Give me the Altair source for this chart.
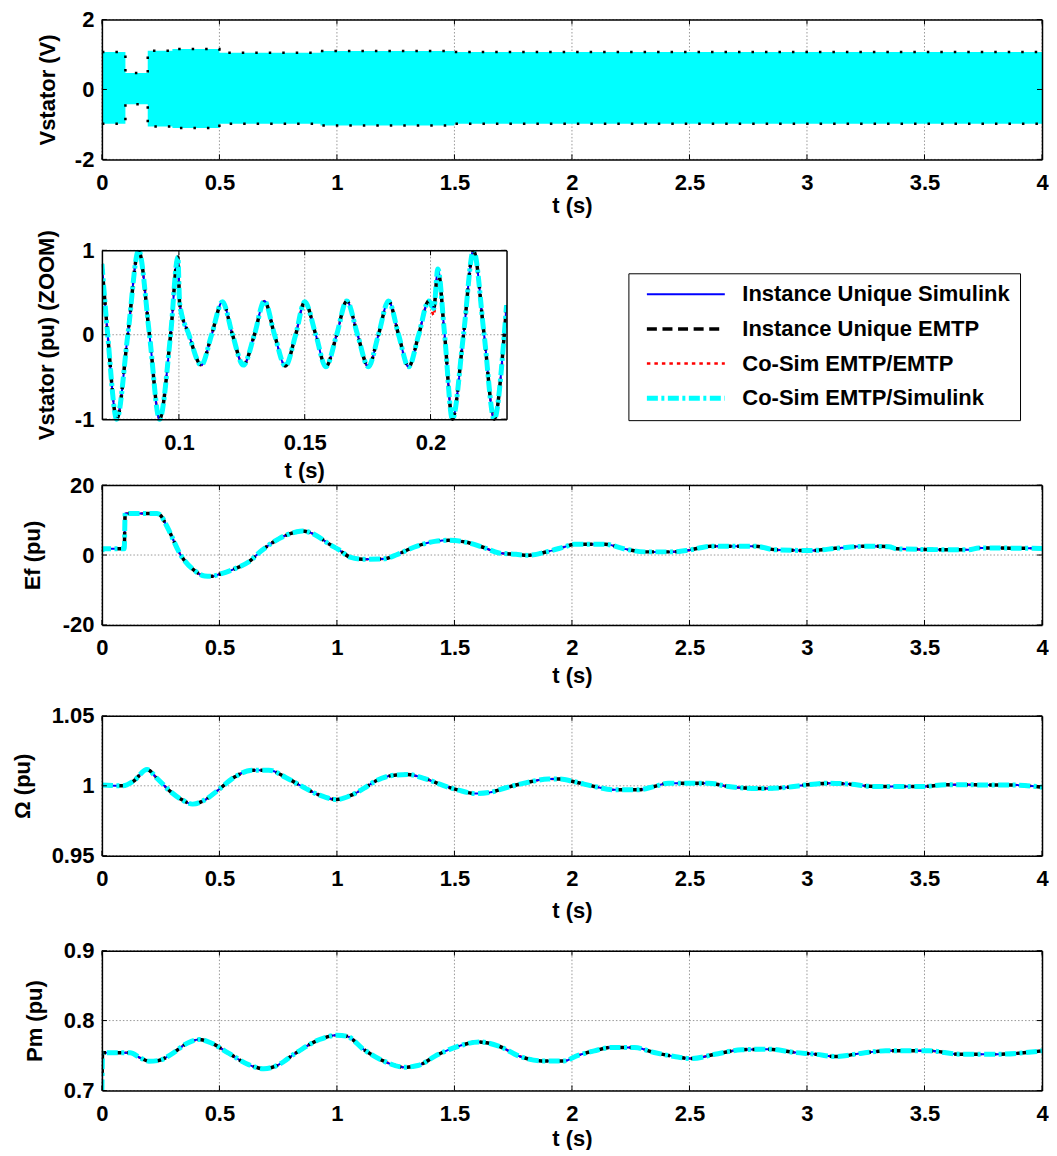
import altair as alt
import pandas as pd

FONT = "Liberation Sans"

# ---------------- data ----------------
SERIES = ["Instance Unique Simulink", "Instance Unique EMTP",
          "Co-Sim EMTP/EMTP", "Co-Sim EMTP/Simulink"]
SERIES_COLORS = ["#0000ff", "#000000", "#ff0000", "#00ffff"]
SERIES_DASHES = [[1, 0], [10, 5.6], [3.5, 4], [11, 3.5, 3, 3.5]]
SERIES_WIDTHS = [2, 3.5, 2.5, 5]
DRAW_ORDER = ["Co-Sim EMTP/EMTP", "Instance Unique Simulink",
              "Instance Unique EMTP", "Co-Sim EMTP/Simulink"]

T_TICKS = [0, 0.5, 1, 1.5, 2, 2.5, 3, 3.5, 4]
ZOOM_T_TICKS = [0.1, 0.15, 0.2]
VS_TICKS = [-2, 0, 2]
ZOOM_V_TICKS = [-1, 0, 1]
EF_TICKS = [-20, 0, 20]
OMEGA_TICKS = [0.95, 1, 1.05]
PM_TICKS = [0.7, 0.8, 0.9]

# envelope of the stator voltage (dense 60 Hz band)
VS_ENV_T = [0, 0.1, 0.195, 0.3, 0.5, 0.93, 1.5, 4.0]
VS_ENV_HI = [1.07, 0.47, 1.11, 1.16, 1.05, 1.10, 1.07, 1.07]
VS_ENV_LO = [-0.98, -0.42, -1.06, -1.10, -0.98, -1.03, -0.98, -0.98]

# zoom on the stator voltage
ZOOM_T = [0.0694, 0.0717, 0.0753, 0.0797, 0.0840, 0.0883, 0.0923, 0.0967, 0.0996,
          0.1003, 0.1040, 0.1089, 0.1130, 0.1173, 0.1213, 0.1256, 0.1300, 0.1340,
          0.1380, 0.1423, 0.1464, 0.1500, 0.1544, 0.1584, 0.1627, 0.1667, 0.1710,
          0.1753, 0.1793, 0.1833, 0.1873, 0.1913, 0.1953, 0.1993, 0.2013, 0.2029,
          0.2056, 0.2087, 0.2131, 0.2171, 0.2213, 0.2253, 0.2293, 0.2302]
ZOOM_V = [0.84, 0.0, -1.0, 0.0, 1.0, 0.0, -1.0, 0.0, 0.92,
          0.37, 0.0, -0.36, 0.0, 0.39, 0.0, -0.36, 0.0, 0.40,
          0.0, -0.37, 0.0, 0.39, 0.0, -0.38, 0.0, 0.40, 0.0,
          -0.38, 0.0, 0.40, 0.0, -0.38, 0.0, 0.40, 0.31, 0.78,
          0.0, -1.0, 0.0, 1.0, 0.0, -1.0, 0.0, 0.35]
# co-simulation EMTP/EMTP differs slightly right after the 0.2 s event
ZOOM_V_COSIM_EE = [0.84, 0.0, -1.0, 0.0, 1.0, 0.0, -1.0, 0.0, 0.92,
                   0.37, 0.0, -0.36, 0.0, 0.39, 0.0, -0.36, 0.0, 0.40,
                   0.0, -0.37, 0.0, 0.39, 0.0, -0.38, 0.0, 0.40, 0.0,
                   -0.38, 0.0, 0.40, 0.0, -0.38, 0.0, 0.40, 0.23, 0.74,
                   -0.04, -0.99, -0.02, 0.98, -0.03, -0.99, -0.02, 0.33]

EF_T = [0, 0.005, 0.095, 0.099, 0.105, 0.235, 0.25, 0.278, 0.336, 0.393, 0.437,
        0.465, 0.50, 0.566, 0.624, 0.68, 0.754, 0.826, 0.854, 0.912, 0.963, 1.006,
        1.056, 1.11, 1.2, 1.258, 1.33, 1.416, 1.474, 1.546, 1.618, 1.69, 1.762,
        1.81, 1.9, 1.967, 2.01, 2.14, 2.22, 2.31, 2.42, 2.49, 2.59, 2.78, 2.865,
        3.02, 3.135, 3.25, 3.35, 3.38, 3.49, 3.69, 3.73, 4.0]
EF_V = [1.0, 1.8, 1.8, 11.9, 11.9, 11.9, 11.3, 8.0, -0.1, -4.4, -6.0,
        -6.1, -5.5, -3.9, -2.0, 1.3, 4.7, 6.6, 6.9, 5.6, 3.3, 1.6,
        -0.6, -1.2, -1.1, 0.2, 2.3, 3.9, 4.2, 3.7, 2.3, 0.6, 0.2,
        -0.1, 1.05, 2.3, 3.1, 3.1, 1.8, 0.9, 0.9, 1.3, 2.5, 2.5, 1.5,
        1.3, 2.0, 2.5, 2.4, 1.8, 1.6, 1.5, 2.0, 1.9]

OMEGA_T = [0, 0.09, 0.134, 0.192, 0.235, 0.293, 0.343, 0.386, 0.437, 0.494, 0.566,
           0.638, 0.71, 0.782, 0.854, 0.926, 0.998, 1.056, 1.114, 1.171, 1.244, 1.3,
           1.373, 1.46, 1.517, 1.589, 1.647, 1.719, 1.81, 1.9, 1.95, 2.01, 2.095,
           2.18, 2.28, 2.35, 2.41, 2.58, 2.665, 2.81, 2.907, 2.99, 3.09, 3.18, 3.29,
           3.49, 3.59, 3.89, 4.0]
OMEGA_V = [1.0005, 1.0, 1.0033, 1.0117, 1.0052, 0.9957, 0.9898, 0.9869, 0.9898, 0.9969, 1.0064,
           1.0112, 1.0112, 1.006, 0.9993, 0.9933, 0.9902, 0.9929, 0.9981, 1.004, 1.0076, 1.0081,
           1.0052, 0.9998, 0.9969, 0.9945, 0.9952, 0.9986, 1.0024, 1.0048, 1.0048, 1.0029, 0.9995,
           0.9971, 0.9971, 0.9995, 1.0019, 1.0019, 0.9995, 0.998, 0.9988, 1.0005, 1.0019, 1.0012, 0.9995,
           0.9995, 1.0007, 1.0005, 0.999]

PM_T = [0, 0.003, 0.12, 0.163, 0.2, 0.242, 0.293, 0.365, 0.415, 0.465, 0.537, 0.624,
        0.689, 0.739, 0.826, 0.926, 0.998, 1.042, 1.114, 1.2, 1.287, 1.344, 1.43,
        1.517, 1.604, 1.69, 1.777, 1.87, 1.967, 2.02, 2.095, 2.166, 2.266, 2.35,
        2.436, 2.51, 2.608, 2.722, 2.836, 2.95, 3.036, 3.12, 3.235, 3.335, 3.52,
        3.65, 3.805, 4.0]
PM_V = [0.70, 0.754, 0.754, 0.7467, 0.7419, 0.7429, 0.7514, 0.768, 0.7729, 0.768, 0.7538, 0.7371,
        0.731, 0.7348, 0.7538, 0.7729, 0.779, 0.7776, 0.7586, 0.7419, 0.7333, 0.7357, 0.7514,
        0.7633, 0.7695, 0.7633, 0.749, 0.7423, 0.7423, 0.7495, 0.7567, 0.7615, 0.7615, 0.7543,
        0.7486, 0.7457, 0.7519, 0.7582, 0.7591, 0.7543, 0.7519, 0.7486, 0.7534, 0.7567, 0.7567,
        0.7519, 0.7519, 0.7567]

# ---------------- styling ----------------
GRID_COLOR = "#7f7f7f"
LABEL_EXPR = "datum.value < 0 ? '-' + format(-datum.value, '~g') : format(datum.value, '~g')"
W_FULL = 941
W_ZOOM = 405


def series_df(ts, vs, overrides=None):
    overrides = overrides or {}
    rows = []
    for s in DRAW_ORDER:
        values = overrides.get(s, vs)
        for t, v in zip(ts, values):
            rows.append({"series": s, "t": t, "v": v})
    return pd.DataFrame(rows)


def bottom_axis(xt, off, ty):
    return alt.Axis(orient="bottom", values=xt, labelExpr=LABEL_EXPR, title="t (s)",
                    titleY=ty, titleBaseline="alphabetic", offset=off, grid=False,
                    ticks=False, tickSize=0, labelPadding=13, domainColor="black",
                    domainWidth=1.5, labelFlush=False, labelOverlap=False, zindex=2)


def left_axis(yt, title, tx):
    return alt.Axis(orient="left", values=yt, labelExpr=LABEL_EXPR, title=title,
                    titleX=tx, titleBaseline="middle", titleAngle=270, grid=False,
                    ticks=False, tickSize=0, labelPadding=8, domainColor="black",
                    domainWidth=1.5, labelFlush=False, labelOverlap=False, zindex=2)


def plain_axis(orient):
    return alt.Axis(orient=orient, labels=False, ticks=False, tickSize=0, title=None,
                    grid=False, domainColor="black", domainWidth=1.5, zindex=2)


def panel(make_data_layers, xdom, ydom, xt, yt, W, H, h, ytitle, tx, ty):
    xs = alt.Scale(domain=xdom, nice=False, zero=False)
    ys = alt.Scale(domain=ydom, range=[h, 0], nice=False, zero=False)
    dfx = pd.DataFrame({"tick": xt})
    dfy = pd.DataFrame({"tick": yt})

    xgrid = alt.Chart(dfx).mark_rule(color=GRID_COLOR, strokeWidth=0.8, strokeDash=[1.5, 2]).encode(
        x=alt.X("tick:Q", scale=xs, axis=plain_axis("top")),
        y=alt.YDatum(ydom[0], type="quantitative", scale=ys, axis=None),
        y2=alt.Y2Datum(ydom[1]))
    ygrid = alt.Chart(dfy).mark_rule(color=GRID_COLOR, strokeWidth=0.8, strokeDash=[1.5, 2]).encode(
        y=alt.Y("tick:Q", scale=ys, axis=plain_axis("right")),
        x=alt.XDatum(xdom[0], type="quantitative", scale=xs, axis=None),
        x2=alt.X2Datum(xdom[1]))

    data_layers = make_data_layers(xs, ys, bottom_axis(xt, -(H - h), ty), left_axis(yt, ytitle, tx))

    tb = alt.Chart(dfx).mark_rule(color="black", strokeWidth=1, y2Offset=-5).encode(
        x=alt.X("tick:Q", scale=xs, axis=None),
        y=alt.YDatum(ydom[0], type="quantitative", scale=ys, axis=None),
        y2=alt.Y2Datum(ydom[0]))
    tt = alt.Chart(dfx).mark_rule(color="black", strokeWidth=1, y2Offset=5).encode(
        x=alt.X("tick:Q", scale=xs, axis=None),
        y=alt.YDatum(ydom[1], type="quantitative", scale=ys, axis=None),
        y2=alt.Y2Datum(ydom[1]))
    tl = alt.Chart(dfy).mark_rule(color="black", strokeWidth=1, x2Offset=5).encode(
        y=alt.Y("tick:Q", scale=ys, axis=None),
        x=alt.XDatum(xdom[0], type="quantitative", scale=xs, axis=None),
        x2=alt.X2Datum(xdom[0]))
    tr = alt.Chart(dfy).mark_rule(color="black", strokeWidth=1, x2Offset=-5).encode(
        y=alt.Y("tick:Q", scale=ys, axis=None),
        x=alt.XDatum(xdom[1], type="quantitative", scale=xs, axis=None),
        x2=alt.X2Datum(xdom[1]))

    return alt.layer(xgrid, ygrid, *data_layers, tb, tt, tl, tr).resolve_axis(
        x="independent", y="independent").properties(width=W, height=H)


LEGEND = alt.Legend(orient="none", legendX=527, legendY=23, title=None, symbolType="stroke",
                    symbolSize=6084, symbolOffset=6, labelOffset=15, clipHeight=22,
                    rowPadding=12.7, padding=10, strokeColor="black", fillColor="white",
                    labelLimit=500, labelFont=FONT, labelFontSize=22, labelFontWeight="bold",
                    labelColor="black", cornerRadius=0)


def series_layers(ts, vs, legend, overrides=None):
    df = series_df(ts, vs, overrides)

    def make(xs, ys, xa, ya):
        enc = dict(
            x=alt.X("t:Q", scale=xs, axis=xa),
            y=alt.Y("v:Q", scale=ys, axis=ya),
            color=alt.Color("series:N", scale=alt.Scale(domain=SERIES, range=SERIES_COLORS), legend=legend),
            strokeDash=alt.StrokeDash("series:N", scale=alt.Scale(domain=SERIES, range=SERIES_DASHES), legend=legend),
            strokeWidth=alt.StrokeWidth("series:N", scale=alt.Scale(type="ordinal", domain=SERIES, range=SERIES_WIDTHS), legend=legend),
        )
        return [alt.Chart(df).mark_line(interpolate="monotone", clip=True).encode(**enc)]
    return make


def band_layers(xs, ys, xa, ya):
    env = pd.DataFrame({"t": VS_ENV_T, "hi": VS_ENV_HI, "lo": VS_ENV_LO})
    area = alt.Chart(env).mark_area(interpolate="step-after", color="#00ffff", opacity=1, clip=True).encode(
        x=alt.X("t:Q", scale=xs, axis=xa), y=alt.Y("hi:Q", scale=ys, axis=ya), y2="lo:Q")
    hi = alt.Chart(env).mark_line(interpolate="step-after", color="black", strokeDash=[2.5, 11], strokeWidth=2.5).encode(
        x=alt.X("t:Q", scale=xs, axis=None), y=alt.Y("hi:Q", scale=ys, axis=None))
    lo = alt.Chart(env).mark_line(interpolate="step-after", color="black", strokeDash=[2.5, 11], strokeWidth=2.5).encode(
        x=alt.X("t:Q", scale=xs, axis=None), y=alt.Y("lo:Q", scale=ys, axis=None))
    return [area, hi, lo]


p1 = panel(band_layers, [0, 4], [-2, 2], T_TICKS, VS_TICKS, W_FULL, 231, 140, "Vstator (V)", -54, 53)
p2 = panel(series_layers(ZOOM_T, ZOOM_V, LEGEND, {"Co-Sim EMTP/EMTP": ZOOM_V_COSIM_EE}),
           [0.0694, 0.2302], [-1, 1], ZOOM_T_TICKS, ZOOM_V_TICKS,
           W_ZOOM, 235, 169, "Vstator (pu) (ZOOM)", -55, 58)
p3 = panel(series_layers(EF_T, EF_V, None), [0, 4], [-20, 20], T_TICKS, EF_TICKS, W_FULL, 231, 140,
           "Ef (pu)", -69, 58)
p4 = panel(series_layers(OMEGA_T, OMEGA_V, None), [0, 4], [0.95, 1.05], T_TICKS, OMEGA_TICKS, W_FULL, 235, 140,
           "\u03a9 (pu)", -79, 62)
p5 = panel(series_layers(PM_T, PM_V, None), [0, 4], [0.7, 0.9], T_TICKS, PM_TICKS, W_FULL, 140, 140,
           "Pm (pu)", -67, 55)

chart = alt.vconcat(p1, p2, p3, p4, p5, spacing=0, bounds="flush").resolve_scale(
    color="independent", strokeDash="independent", strokeWidth="independent"
).properties(
    padding={"top": 0, "left": 4, "right": 0, "bottom": 0}, background="white"
).configure_view(stroke=None).configure_axis(
    labelFont=FONT, labelFontSize=22, labelFontWeight="bold", labelColor="black",
    titleFont=FONT, titleFontSize=22, titleFontWeight="bold", titleColor="black"
)

chart.save("out.html", embed_options={"renderer": "svg", "actions": False})
